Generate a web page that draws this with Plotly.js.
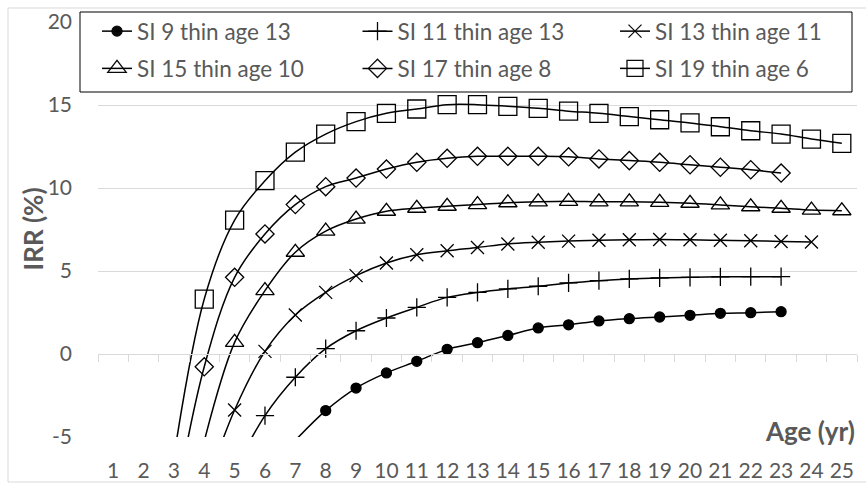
<!DOCTYPE html>
<html>
<head>
<meta charset="utf-8">
<script src="https://cdn.plot.ly/plotly-3.0.1.min.js"></script>
<style>html,body{margin:0;padding:0;background:#fff;}#chart{width:866px;height:486px;}</style>
</head>
<body>
<div id="chart"></div>
<script>
// ---- data ----
const ages = [1,2,3,4,5,6,7,8,9,10,11,12,13,14,15,16,17,18,19,20,21,22,23,24,25];
const yTickVals = [-5, 0, 5, 10, 15, 20];
const yTickText = ['-5', '0', '5', '10', '15', '20'];
const seriesNames = ['SI 9 thin age 13', 'SI 11 thin age 13', 'SI 13 thin age 11',
                     'SI 15 thin age 10', 'SI 17 thin age 8', 'SI 19 thin age 6'];

// values by age 1..25 (null = no data)
const si9  = [null,null,null,null,null,null,-5.2,-3.41,-2.05,-1.14,-0.44,0.28,0.68,1.12,1.57,1.76,1.99,2.13,2.23,2.33,2.45,2.49,2.55,null,null];
const si11 = [null,null,null,null,-7.0,-3.71,-1.4,0.32,1.4,2.17,2.81,3.41,3.71,3.92,4.08,4.28,4.42,4.52,4.58,4.62,4.65,4.66,4.66,null,null];
const si13 = [null,null,null,-8.3,-3.37,0.16,2.35,3.71,4.72,5.48,5.98,6.22,6.42,6.63,6.73,6.8,6.85,6.88,6.9,6.88,6.85,6.82,6.78,6.75,null];
const si15 = [null,null,null,-5.25,0.7,3.82,6.13,7.4,8.13,8.6,8.78,8.9,9.0,9.11,9.17,9.2,9.17,9.17,9.14,9.08,8.98,8.87,8.78,8.67,8.63];
const si17 = [null,null,-9.5,-0.77,4.62,7.23,9.0,10.08,10.6,11.14,11.55,11.79,11.91,11.91,11.91,11.88,11.75,11.65,11.55,11.4,11.25,11.1,10.9,null,null];
const si19 = [null,null,-6.2,3.31,8.07,10.44,12.16,13.25,14.0,14.5,14.76,15.02,15.02,14.92,14.8,14.63,14.5,14.3,14.11,13.92,13.69,13.45,13.25,12.95,12.69];

// ---- styling ----
const yMin = -5, yMax = 20;
const FONT = 'Lato, "Open Sans", sans-serif';
const TXT = '#595959';
const GRID = '#d9d9d9';
const seriesData = [si9, si11, si13, si15, si17, si19];
const symbols = ['circle', 'cross-thin-open', 'x-thin-open', 'triangle-up-open', 'diamond-open', 'square-open'];
const sizes = [10, 13, 13, 16, 14, 18];
// legend columns: 3 columns x 2 rows, filled row by row
const legendOf = ['legend', 'legend2', 'legend3', 'legend', 'legend2', 'legend3'];

const traces = seriesData.map((vals, i) => ({
  type: 'scatter',
  mode: 'lines+markers',
  name: seriesNames[i],
  x: ages,
  y: vals,
  legend: legendOf[i],
  legendgroup: 'g' + i,
  line: {color: '#000000', width: 1.5, shape: 'spline', smoothing: 1},
  marker: {
    symbol: symbols[i],
    size: sizes[i],
    // points below the axis minimum are not marked (only their line shows)
    opacity: vals.map(v => (v !== null && v < yMin) ? 0 : 1),
    color: '#000000',
    line: {color: '#000000', width: 1.3}
  },
  cliponaxis: true,
  hoverinfo: 'x+y+name'
}));

// invisible helper trace so the zero-crossing category axis is drawn
traces.push({type: 'scatter', mode: 'none', x: ages, y: ages.map(() => null), xaxis: 'x2', yaxis: 'y', showlegend: false, hoverinfo: 'skip'});

const boundaries = ages.map(a => a - 0.5).concat([ages[ages.length - 1] + 0.5]);

// layout geometry helpers (pixels -> paper)
const W = 866, H = 486, mL = 98, mR = 9, mT = 22, mB = 49;
const pw = W - mL - mR, ph = H - mT - mB;
const px = x => (x - mL) / pw;
const py = y => (H - mB - y) / ph;

function legendCol(xPix) {
  return {
    orientation: 'v', x: px(xPix), xanchor: 'left', y: py(10), yanchor: 'top',
    bgcolor: 'rgba(0,0,0,0)', borderwidth: 0, tracegroupgap: 5,
    font: {family: FONT, size: 22.5, color: TXT}
  };
}

const layout = {
  width: W, height: H,
  margin: {l: mL, r: mR, t: mT, b: mB, pad: 0, autoexpand: false},
  paper_bgcolor: '#ffffff',
  plot_bgcolor: '#ffffff',
  font: {family: FONT, size: 21, color: TXT},
  showlegend: true,
  xaxis: {
    range: [0.5, 25.5],
    tickmode: 'array', tickvals: ages, ticktext: ages.map(String),
    showgrid: false, showline: false, zeroline: false, ticks: '',
    ticklabelstandoff: 19,
    tickfont: {family: FONT, size: 21, color: TXT},
    fixedrange: true
  },
  xaxis2: {
    overlaying: 'x', anchor: 'free', position: (0 - yMin) / (yMax - yMin),
    range: [0.5, 25.5],
    tickmode: 'array', tickvals: boundaries,
    ticks: 'outside', ticklen: 7, tickcolor: GRID, tickwidth: 1,
    showline: true, linecolor: GRID, linewidth: 1,
    showticklabels: false, showgrid: false, zeroline: false,
    fixedrange: true
  },
  yaxis: {
    range: [yMin, yMax],
    tickmode: 'array', tickvals: yTickVals, ticktext: yTickText,
    showgrid: true, gridcolor: GRID, gridwidth: 1,
    zeroline: false, showline: false, ticks: '',
    ticklabelstandoff: 25,
    tickfont: {family: FONT, size: 21, color: TXT},
    title: {text: '', font: {family: FONT, size: 26, color: TXT}},
    automargin: false,
    fixedrange: true
  },
  legend: legendCol(97),
  legend2: legendCol(357.5),
  legend3: legendCol(615),
  annotations: [
    {text: '<b>IRR (%)</b>', xref: 'paper', yref: 'paper',
     x: px(32), xanchor: 'center', y: 0.5, yanchor: 'middle', textangle: -90,
     showarrow: false, font: {family: FONT, size: 26, color: TXT}},
    {text: '<b>Age (yr)</b>', xref: 'paper', yref: 'paper',
     x: 1, xanchor: 'right', y: py(431), yanchor: 'middle',
     showarrow: false, font: {family: FONT, size: 26, color: TXT}}
  ],
  shapes: [
    {type: 'rect', xref: 'paper', yref: 'paper', x0: px(8), x1: px(880), y0: py(482), y1: py(8),
     line: {color: GRID, width: 1}, fillcolor: 'rgba(0,0,0,0)', layer: 'below'},
    {type: 'rect', xref: 'paper', yref: 'paper', x0: px(80), x1: px(852), y0: py(92), y1: py(12),
     line: {color: '#000000', width: 1}, fillcolor: 'rgba(0,0,0,0)', layer: 'above'}
  ]
};

Plotly.newPlot('chart', traces, layout, {displayModeBar: false, staticPlot: true});
</script>
</body>
</html>
